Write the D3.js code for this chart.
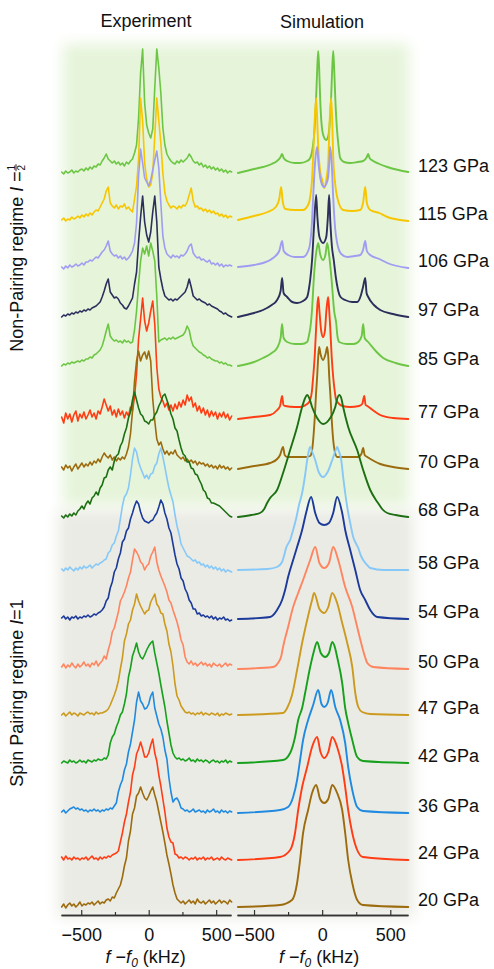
<!DOCTYPE html>
<html><head><meta charset="utf-8">
<script src="https://cdn.jsdelivr.net/npm/d3@7"></script>
<style>
body{margin:0;background:#fff}
svg{display:block}
text{font-family:"Liberation Sans",Arial,Helvetica,sans-serif;fill:#111}
</style>
</head><body>
<svg id="c" width="494" height="969"></svg>
<script>
// ---------- data ----------
const pressures = ["123 GPa","115 GPa","106 GPa","97 GPa","85 GPa","77 GPa","70 GPa","68 GPa","58 GPa","54 GPa","50 GPa","47 GPa","42 GPa","36 GPa","24 GPa","20 GPa"];
// vertical stacking offset of each spectrum (a.u.)
const offsets = [735,687,640,591,542,489,439,391,338,289,239,193,145,95,48,1];
const majorTicks = [-500,0,500];
const minorTicks = [-250,250];
const panelTitles = ["Experiment","Simulation"];

// experimental frequency grid (kHz) and intensities (a.u.)
const expFreq = d3.range(-645, 616, 15);
const exp123 = [1,-1,2,0,1,3,0,2,1,3, 4,2,5,3,6,4,7,6,9,8, 12,15,19,14,12,10,12,9,11,8, 10,7,11,9,12,14,20,28,55,100, 124,70,48,40,35,44,85,124,105,80, 45,28,19,15,12,10,9,12,10,13, 11,13,15,19,16,12,10,11,8,10, 6,8,5,7,4,6,3,5,2,4, 1,3,0,2,1];
const exp115 = [1,3,0,2,1,4,2,3,5,3, 6,4,7,5,8,6,9,11,10,14, 18,22,30,34,18,15,13,16,12,15, 14,17,12,14,11,9,22,35,62,123, 100,58,42,34,36,48,85,123,100,78, 48,28,20,16,13,15,14,12,15,13, 16,15,19,26,33,20,14,15,12,13, 10,12,9,11,8,10,7,8,5,7, 4,6,3,5,4];
const exp106 = [1,-1,2,0,3,1,2,4,2,3, 5,3,6,6,8,7,9,11,10,13, 16,18,22,27,17,14,12,13,10,12, 9,11,8,10,13,17,25,45,92,119, 105,90,86,82,88,98,108,117,100,65, 32,20,14,12,10,13,11,12,10,13, 12,14,17,22,24,15,12,10,11,8, 9,7,6,8,4,5,3,5,2,4, 1,3,2,3,2];
const exp97 = [0,2,1,3,2,4,3,5,4,6, 5,7,6,8,7,9,10,11,13,15, 20,26,33,38,25,22,19,20,18,14, 12,9,8,11,15,19,33,45,75,100, 121,95,82,75,85,105,121,95,50,38, 28,21,19,17,18,16,18,17,19,21, 23,25,30,38,30,21,19,17,18,16, 15,14,12,13,11,10,9,8,6,5, 3,4,2,1,0];
const exp85 = [0,2,1,3,2,4,3,4,5,4, 6,5,7,7,9,8,11,12,14,16, 20,27,35,42,30,27,25,26,24,25, 23,26,24,25,23,24,36,55,82,105, 118,112,120,110,123,115,105,70,24,26, 27,28,26,28,27,29,27,28,29,30, 31,34,40,36,26,20,18,16,14,13, 11,10,8,9,7,6,5,5,3,4, 2,3,1,1,0];
const exp77 = [2,-4,6,0,5,-3,4,8,-2,5, 1,7,0,4,9,2,6,0,8,5, 12,20,14,8,13,4,9,2,10,4, 8,1,7,3,12,8,22,45,80,100, 121,98,88,96,108,118,95,52,30,22, 18,12,16,9,14,8,15,10,17,12, 19,14,24,18,22,12,16,8,13,6, 11,4,9,2,8,3,7,0,6,2, 7,1,5,-1,3];
const exp70 = [2,-1,4,1,3,-2,2,5,0,3, 6,2,5,3,7,4,8,6,10,7, 12,16,13,11,14,9,12,8,11,9, 12,10,15,22,35,58,88,108,118,108, 114,117,110,118,108,70,48,30,24,27, 20,15,18,14,17,15,19,14,12,10, 12,8,10,7,9,6,8,4,7,5, 6,3,5,2,4,1,3,0,4,1, 3,0,2,-1,1];
const exp68 = [1,-1,2,0,3,1,4,2,6,8, 11,8,13,16,13,19,21,25,22,29, 32,39,40,47,50,47,56,61,63,71, 75,83,89,99,105,117,125,117,109,103, 101,96,95,93,97,97,102,105,111,115, 121,123,117,111,103,98,89,86,77,69, 63,61,55,55,49,48,43,42,37,33, 27,25,19,18,14,14,13,12,11,9, 7,5,3,1,0];
const exp58 = [1,-1,2,0,3,1,-1,2,0,3, 1,4,2,3,5,2,4,6,5,7, 8,10,11,17,19,25,27,34,39,51, 64,73,76,82,95,111,122,118,108,102, 97,92,95,91,96,97,104,107,116,122, 113,103,92,82,75,68,55,44,36,26, 22,18,14,13,11,9,10,7,8,5, 6,3,5,2,4,1,3,0,2,-1, 1,-2,0,-1,-2];
const exp54 = [1,3,0,2,-1,2,1,3,0,2, 1,3,2,4,2,3,5,4,6,7, 9,12,18,21,31,37,47,51,60,66, 77,80,88,91,100,106,113,118,115,107, 101,98,97,96,98,99,103,106,112,119, 115,106,100,91,86,75,64,55,50,41, 38,30,26,19,16,10,10,5,6,3, 4,2,3,1,3,0,2,-1,1,0, 2,-1,0,-2,-1];
const exp50 = [2,5,1,4,2,6,3,1,5,2, 4,7,3,5,2,6,4,8,3,6, 8,13,10,19,26,37,41,49,57,68, 72,77,83,91,97,109,120,117,113,107, 105,99,103,105,113,117,122,107,99,93, 88,83,77,69,66,59,53,47,39,29, 24,12,7,5,8,4,6,3,5,7, 4,6,3,5,2,6,4,3,5,2, 4,6,3,5,4];
const exp47 = [0,2,-1,1,3,0,2,1,-1,2, 1,0,2,3,1,2,0,3,1,2, 2,3,4,6,10,15,20,26,34,46, 57,74,81,91,95,105,111,121,114,109, 105,101,104,105,113,117,121,111,108,102, 101,91,84,71,63,49,31,19,15,9, 6,3,2,3,1,2,0,2,1,3, 0,2,1,0,2,1,0,2,-1,1, 0,2,1,0,1];
const exp42 = [0,2,1,0,3,1,2,0,1,3, 1,2,0,3,2,1,3,2,4,3, 3,5,4,8,20,26,29,36,41,48, 51,59,69,86,95,107,113,120,111,106, 104,108,113,117,120,122,110,100,90,78, 67,56,42,30,18,10,6,4,5,3, 4,2,3,5,2,3,1,4,2,3, 1,3,2,0,2,3,1,2,0,2, 1,3,0,2,1];
const exp36 = [1,3,0,2,4,5,6,4,5,3, 4,2,3,1,3,2,4,2,3,1, 3,2,4,3,5,4,7,10,21,28, 33,43,49,61,69,81,93,111,121,112, 109,104,105,109,117,121,105,97,89,84, 76,63,54,35,21,11,14,15,11,5, 4,2,3,1,2,4,1,2,3,1, 2,0,3,1,2,4,1,2,0,3, 1,2,0,2,1];
const exp24 = [3,0,4,1,2,0,3,1,2,0, 2,1,3,0,2,4,1,2,0,3, 1,3,2,4,3,5,6,7,9,18, 27,38,46,58,68,85,93,106,111,118, 111,103,103,107,115,121,107,99,85,74, 61,48,32,23,18,17,6,5,2,3, 1,3,2,0,2,1,3,0,2,1, 3,0,2,1,3,0,1,2,0,3, 1,0,2,1,0];
const exp20 = [0,3,-1,2,4,1,3,0,2,5, 1,3,2,4,3,5,2,4,6,3, 5,4,7,8,6,10,9,14,18,22, 30,41,49,66,76,93,99,111,114,120, 114,109,107,111,116,120,112,105,95,85, 75,64,52,43,33,22,14,8,6,4, 6,3,5,7,4,6,3,8,5,4, 6,3,5,7,4,6,3,5,7,4, 6,5,3,7,5];

// simulated spectra: [frequency kHz, intensity a.u.]
const sim123 = [[-618,0],[-500,4],[-434,6],[-370,9],[-331,12],[-305,16],[-294,19],[-283,15],[-257,12],[-200,10],[-162,10],[-110,12],[-88,15],[-70,25],[-55,45],[-44,76],[-36,105],[-29,122],[-22,105],[-15,76],[-5,50],[10,37],[29,33],[45,37],[58,55],[66,76],[74,105],[81,122],[88,105],[96,76],[108,45],[118,30],[132,15],[160,11],[206,10],[260,11],[301,12],[328,16],[338,19],[348,15],[375,12],[420,9],[478,6],[560,3],[632,1]];
const sim115 = [[-618,1],[-500,5],[-400,9],[-340,14],[-315,22],[-301,34],[-290,20],[-270,12],[-200,11],[-140,11],[-100,17],[-88,24],[-75,40],[-66,64],[-55,100],[-44,123],[-36,100],[-29,74],[-15,50],[0,41],[15,33],[30,41],[45,60],[55,100],[66,123],[74,100],[81,64],[95,38],[110,24],[154,11],[220,10],[279,11],[300,18],[316,34],[328,18],[353,11],[420,8],[478,4],[632,0]];
const sim106 = [[-618,1],[-500,3],[-434,5],[-360,10],[-315,17],[-294,27],[-282,17],[-250,13],[-200,11],[-140,11],[-100,18],[-88,25],[-75,45],[-66,71],[-52,105],[-37,121],[-27,105],[-15,91],[0,83],[15,81],[30,84],[44,91],[52,105],[59,121],[70,105],[81,71],[95,40],[110,25],[140,14],[184,11],[240,12],[279,13],[300,18],[316,27],[328,17],[353,13],[420,9],[478,5],[632,0]];
const sim97 = [[-618,0],[-500,4],[-434,7],[-370,12],[-331,17],[-305,26],[-294,39],[-283,24],[-257,20],[-220,15],[-184,14],[-140,16],[-110,20],[-95,30],[-88,37],[-74,57],[-60,90],[-44,122],[-35,100],[-20,80],[7,74],[30,80],[42,100],[51,122],[60,95],[72,70],[85,57],[100,40],[115,28],[135,20],[169,17],[220,15],[257,15],[285,22],[300,30],[316,39],[326,24],[338,20],[380,12],[426,7],[520,3],[632,0]];
const sim85 = [[-618,0],[-500,4],[-434,8],[-370,13],[-331,18],[-305,28],[-294,42],[-283,28],[-257,24],[-200,22],[-150,22],[-110,24],[-95,32],[-85,40],[-75,55],[-60,90],[-45,112],[-29,123],[-15,112],[7,106],[25,112],[37,123],[52,110],[70,85],[88,55],[103,43],[112,30],[125,24],[180,22],[230,22],[265,24],[290,30],[301,42],[312,28],[338,24],[400,14],[448,8],[540,3],[632,0]];
const sim77 = [[-618,0],[-500,2],[-382,4],[-330,9],[-309,13],[-294,23],[-284,14],[-272,13],[-200,12],[-162,12],[-110,15],[-88,19],[-75,28],[-66,42],[-55,62],[-44,92],[-36,112],[-29,122],[-20,108],[-7,88],[7,82],[20,88],[32,110],[44,122],[52,108],[59,92],[70,62],[81,42],[92,28],[103,19],[150,13],[206,12],[270,13],[294,15],[309,23],[319,14],[331,13],[380,8],[426,4],[520,1],[632,0]];
const sim70 = [[-618,0],[-500,3],[-382,6],[-330,10],[-309,14],[-287,22],[-275,14],[-257,12],[-200,12],[-120,12],[-88,13],[-75,18],[-66,29],[-55,50],[-45,75],[-37,92],[-29,112],[-22,122],[-12,115],[7,109],[25,115],[37,122],[45,112],[52,92],[60,75],[70,50],[81,29],[92,18],[110,12],[200,12],[265,12],[288,15],[301,21],[312,14],[331,12],[380,8],[426,5],[520,2],[632,0]];
const sim68 = [[-618,0],[-520,2],[-456,4],[-425,8],[-404,14],[-382,19],[-331,27],[-287,44],[-235,67],[-184,90],[-147,110],[-125,119],[-110,122],[-95,119],[-74,110],[-37,99],[7,93],[59,99],[96,110],[112,119],[125,122],[140,119],[154,110],[191,90],[257,67],[301,47],[353,27],[390,18],[410,14],[440,8],[478,4],[540,2],[632,0]];
const sim58 = [[-618,0],[-400,1],[-331,3],[-294,8],[-278,15],[-265,22],[-235,30],[-213,40],[-190,52],[-170,65],[-147,77],[-125,95],[-110,110],[-98,119],[-88,123],[-75,119],[-51,110],[-25,98],[7,93],[40,98],[74,110],[97,119],[110,123],[122,119],[140,110],[155,92],[169,77],[190,58],[206,47],[228,33],[250,26],[265,22],[285,14],[301,10],[330,5],[353,2],[450,0],[632,0]];
const sim54 = [[-618,0],[-382,2],[-331,9],[-294,19],[-272,29],[-250,42],[-213,59],[-184,72],[-147,89],[-118,106],[-81,122],[-51,106],[-20,96],[15,94],[50,96],[81,106],[110,122],[147,106],[169,89],[206,69],[243,49],[279,29],[316,19],[353,9],[404,2],[632,0]];
const sim50 = [[-618,0],[-360,2],[-324,6],[-300,13],[-287,22],[-250,42],[-213,62],[-176,76],[-140,89],[-88,109],[-51,122],[-20,106],[15,101],[50,106],[81,122],[118,109],[169,82],[221,62],[257,42],[294,22],[315,12],[331,6],[375,2],[632,0]];
const sim47 = [[-618,0],[-287,2],[-257,7],[-221,20],[-184,45],[-147,72],[-110,95],[-74,115],[-59,122],[-20,106],[15,102],[45,108],[74,122],[110,112],[147,92],[184,72],[221,48],[243,22],[265,8],[294,3],[353,1],[632,0]];
const sim42 = [[-618,0],[-287,3],[-235,10],[-199,26],[-176,43],[-147,55],[-125,70],[-88,96],[-60,112],[-37,121],[-10,110],[22,106],[50,110],[74,121],[95,115],[110,106],[147,80],[169,55],[191,40],[221,23],[257,6],[300,2],[632,0]];
const sim36 = [[-618,0],[-309,3],[-250,6],[-213,16],[-184,33],[-162,53],[-140,73],[-103,93],[-66,108],[-29,123],[-5,109],[15,106],[40,110],[66,123],[96,106],[132,93],[169,70],[191,46],[221,23],[257,6],[300,2],[632,0]];
const sim24 = [[-618,0],[-309,3],[-235,10],[-199,27],[-176,50],[-147,73],[-110,93],[-74,113],[-37,123],[-12,108],[15,102],[45,108],[74,123],[110,113],[147,93],[169,73],[191,50],[221,27],[257,10],[300,3],[632,0]];
const sim20 = [[-618,0],[-309,2],[-221,7],[-184,24],[-162,47],[-140,74],[-103,97],[-74,114],[-44,122],[-15,108],[15,104],[45,108],[74,122],[110,114],[147,97],[169,74],[191,47],[221,24],[257,7],[300,2],[632,0]];

const expSeries = [exp123,exp115,exp106,exp97,exp85,exp77,exp70,exp68,exp58,exp54,exp50,exp47,exp42,exp36,exp24,exp20];
const simSeries = [sim123,sim115,sim106,sim97,sim85,sim77,sim70,sim68,sim58,sim54,sim50,sim47,sim42,sim36,sim24,sim20];

// palette
const colors = ["#6cc644","#f7c600","#a09cf2","#2c2e5c","#6cc644","#ff3c14","#9c6b0e","#1d6f13","#86c8f8","#1b3a9a","#ff8560","#cc9a1e","#16a01c","#1f8ae0","#ff3c14","#9c6b0e"];

// ---------- drawing ----------
const svg = d3.select("#c");
const defs = svg.append("defs");
defs.append("filter").attr("id","blur").attr("x","-20%").attr("y","-20%").attr("width","140%").attr("height","140%")
  .append("feGaussianBlur").attr("stdDeviation",7);

svg.append("rect").attr("x",58).attr("y",510).attr("width",356).attr("height",408)
  .attr("fill","#ebebe5").attr("filter","url(#blur)");
svg.append("rect").attr("x",63).attr("y",44).attr("width",346).attr("height",462)
  .attr("fill","#e6f4da").attr("filter","url(#blur)");

const xE = d3.scaleLinear().domain([-650,610]).range([61,231]);
const xS = d3.scaleLinear().domain([-625,630]).range([237,408]);
const y = d3.scaleLinear().domain([0,800]).range([908,108]);

const gLines = svg.append("g").attr("fill","none").attr("stroke-linejoin","round").attr("stroke-linecap","round");

expSeries.forEach((vals, i) => {
  const off = offsets[i];
  const le = d3.line().x((d,k) => xE(expFreq[k])).y(d => y(off + d));
  gLines.append("path").attr("d", le(vals)).attr("stroke", colors[i]).attr("stroke-width", 1.6);
  const ls = d3.line().curve(d3.curveMonotoneX).x(d => xS(d[0])).y(d => y(off + d[1]));
  gLines.append("path").attr("d", ls(simSeries[i])).attr("stroke", colors[i]).attr("stroke-width", 1.9);
});

// pressure labels
svg.append("g").selectAll("text").data(pressures).join("text")
  .attr("x", 418).attr("y", (d,i) => y(offsets[i]) - 1)
  .attr("font-size", 18).text(d => d);

// axes
function drawAxis(x) {
  const g1 = svg.append("g").attr("transform","translate(0,915)")
    .call(d3.axisBottom(x).tickValues(majorTicks).tickSizeInner(-5).tickSizeOuter(0).tickPadding(13));
  const g2 = svg.append("g").attr("transform","translate(0,915)")
    .call(d3.axisBottom(x).tickValues(minorTicks).tickFormat("").tickSizeInner(-3).tickSizeOuter(0));
  [g1,g2].forEach(g => {
    g.select(".domain").attr("stroke","#333").attr("stroke-width",1.6);
    g.selectAll(".tick line").attr("stroke","#333").attr("stroke-width",1.2);
    g.selectAll(".tick text").attr("font-size",18).attr("fill","#111")
      .attr("font-family",'"Liberation Sans",Arial,Helvetica,sans-serif');
  });
  const t = svg.append("text").attr("x", x(0) - 3).attr("y", 963).attr("text-anchor","middle").attr("font-size",18);
  t.append("tspan").attr("font-style","italic").text("f");
  t.append("tspan").text(" \u2212");
  t.append("tspan").attr("font-style","italic").text("f");
  t.append("tspan").attr("font-style","italic").attr("font-size",12).attr("dy",4).text("0");
  t.append("tspan").attr("dy",-4).text(" (kHz)");
}
drawAxis(xE);
drawAxis(xS);

// panel titles
svg.append("text").attr("x",146).attr("y",27).attr("text-anchor","middle").attr("font-size",18).text(panelTitles[0]);
svg.append("text").attr("x",322).attr("y",28).attr("text-anchor","middle").attr("font-size",18).text(panelTitles[1]);

// regime labels (rotated)
{
  const g = svg.append("g").attr("transform","translate(23,258) rotate(-90)");
  const t = g.append("text").attr("font-size",18);
  t.append("tspan").text("Non-Pairing regime ");
  t.append("tspan").attr("font-style","italic").text("I");
  t.append("tspan").text(" = ");
  const w = t.node().getComputedTextLength();
  const fw = 7, total = w + fw;
  const x0 = -total/2;
  t.attr("x", x0);
  g.append("text").attr("x", x0 + w + fw/2).attr("y",-8.5).attr("text-anchor","middle").attr("font-size",10).text("1");
  g.append("line").attr("x1", x0 + w).attr("x2", x0 + w + fw).attr("y1",-7).attr("y2",-7).attr("stroke","#111").attr("stroke-width",0.9);
  g.append("text").attr("x", x0 + w + fw/2).attr("y",1.5).attr("text-anchor","middle").attr("font-size",10).text("2");
}
{
  const g = svg.append("g").attr("transform","translate(23,693) rotate(-90)");
  const t = g.append("text").attr("font-size",18).attr("text-anchor","middle");
  t.append("tspan").text("Spin Pairing regime ");
  t.append("tspan").attr("font-style","italic").text("I");
  t.append("tspan").text("=1");
}
</script>
</body></html>
